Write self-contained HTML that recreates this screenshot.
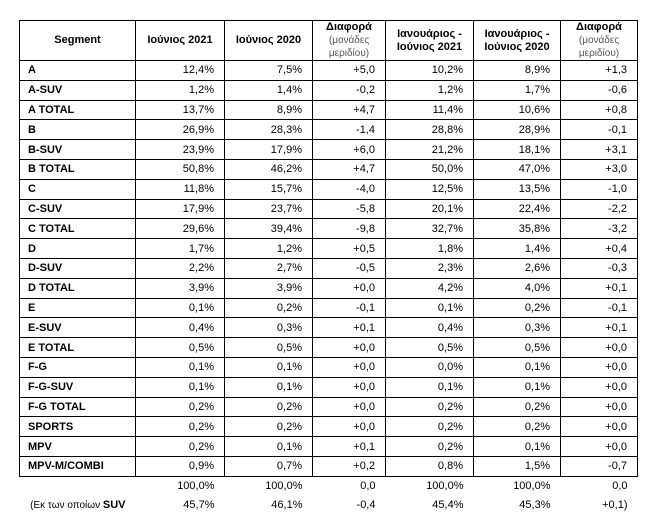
<!DOCTYPE html>
<html><head><meta charset="utf-8"><style>
body{margin:0;background:#fff;width:663px;height:527px;overflow:hidden;font-family:"Liberation Sans",sans-serif;}
table{position:absolute;left:19px;top:20px;border-collapse:collapse;font-size:11px;color:#000;}
td{border:1px solid #000;height:19.8px;padding:0 10px 0 6px;text-align:right;box-sizing:border-box;line-height:12px}
td:first-child{text-align:left;font-weight:bold;padding-left:8px}
tr.h td{height:38px;text-align:center;font-weight:bold;padding:0 3px;line-height:13px}
tr.h td:first-child{text-align:center}
.s{font-weight:normal;color:#555;font-size:10px;line-height:12px}
tr.n td{border:none;height:19.5px}
tr.n td:first-child{font-weight:normal;font-size:10px;text-align:right}
</style></head><body>
<table>
<colgroup><col style="width:116px"><col style="width:89px"><col style="width:88px"><col style="width:73px"><col style="width:88px"><col style="width:87px"><col style="width:77px"></colgroup>
<tr class="h"><td>Segment</td><td>Ιούνιος 2021</td><td>Ιούνιος 2020</td><td>Διαφορά<br><span class="s">(μονάδες<br>μεριδίου)</span></td><td>Ιανουάριος -<br>Ιούνιος 2021</td><td>Ιανουάριος -<br>Ιούνιος 2020</td><td>Διαφορά<br><span class="s">(μονάδες<br>μεριδίου)</span></td></tr>
<tr><td>A</td><td>12,4%</td><td>7,5%</td><td>+5,0</td><td>10,2%</td><td>8,9%</td><td>+1,3</td></tr>
<tr><td>A-SUV</td><td>1,2%</td><td>1,4%</td><td>-0,2</td><td>1,2%</td><td>1,7%</td><td>-0,6</td></tr>
<tr><td>A TOTAL</td><td>13,7%</td><td>8,9%</td><td>+4,7</td><td>11,4%</td><td>10,6%</td><td>+0,8</td></tr>
<tr><td>B</td><td>26,9%</td><td>28,3%</td><td>-1,4</td><td>28,8%</td><td>28,9%</td><td>-0,1</td></tr>
<tr><td>B-SUV</td><td>23,9%</td><td>17,9%</td><td>+6,0</td><td>21,2%</td><td>18,1%</td><td>+3,1</td></tr>
<tr><td>B TOTAL</td><td>50,8%</td><td>46,2%</td><td>+4,7</td><td>50,0%</td><td>47,0%</td><td>+3,0</td></tr>
<tr><td>C</td><td>11,8%</td><td>15,7%</td><td>-4,0</td><td>12,5%</td><td>13,5%</td><td>-1,0</td></tr>
<tr><td>C-SUV</td><td>17,9%</td><td>23,7%</td><td>-5,8</td><td>20,1%</td><td>22,4%</td><td>-2,2</td></tr>
<tr><td>C TOTAL</td><td>29,6%</td><td>39,4%</td><td>-9,8</td><td>32,7%</td><td>35,8%</td><td>-3,2</td></tr>
<tr><td>D</td><td>1,7%</td><td>1,2%</td><td>+0,5</td><td>1,8%</td><td>1,4%</td><td>+0,4</td></tr>
<tr><td>D-SUV</td><td>2,2%</td><td>2,7%</td><td>-0,5</td><td>2,3%</td><td>2,6%</td><td>-0,3</td></tr>
<tr><td>D TOTAL</td><td>3,9%</td><td>3,9%</td><td>+0,0</td><td>4,2%</td><td>4,0%</td><td>+0,1</td></tr>
<tr><td>E</td><td>0,1%</td><td>0,2%</td><td>-0,1</td><td>0,1%</td><td>0,2%</td><td>-0,1</td></tr>
<tr><td>E-SUV</td><td>0,4%</td><td>0,3%</td><td>+0,1</td><td>0,4%</td><td>0,3%</td><td>+0,1</td></tr>
<tr><td>E TOTAL</td><td>0,5%</td><td>0,5%</td><td>+0,0</td><td>0,5%</td><td>0,5%</td><td>+0,0</td></tr>
<tr><td>F-G</td><td>0,1%</td><td>0,1%</td><td>+0,0</td><td>0,0%</td><td>0,1%</td><td>+0,0</td></tr>
<tr><td>F-G-SUV</td><td>0,1%</td><td>0,1%</td><td>+0,0</td><td>0,1%</td><td>0,1%</td><td>+0,0</td></tr>
<tr><td>F-G TOTAL</td><td>0,2%</td><td>0,2%</td><td>+0,0</td><td>0,2%</td><td>0,2%</td><td>+0,0</td></tr>
<tr><td>SPORTS</td><td>0,2%</td><td>0,2%</td><td>+0,0</td><td>0,2%</td><td>0,2%</td><td>+0,0</td></tr>
<tr><td>MPV</td><td>0,2%</td><td>0,1%</td><td>+0,1</td><td>0,2%</td><td>0,1%</td><td>+0,0</td></tr>
<tr><td>MPV-M/COMBI</td><td>0,9%</td><td>0,7%</td><td>+0,2</td><td>0,8%</td><td>1,5%</td><td>-0,7</td></tr>
<tr class="n"><td></td><td>100,0%</td><td>100,0%</td><td>0,0</td><td>100,0%</td><td>100,0%</td><td>0,0</td></tr>
<tr class="n"><td>(Εκ των οποίων <b style="font-size:11px">SUV</b></td><td>45,7%</td><td>46,1%</td><td>-0,4</td><td>45,4%</td><td>45,3%</td><td>+0,1)</td></tr>
</table>
</body></html>
